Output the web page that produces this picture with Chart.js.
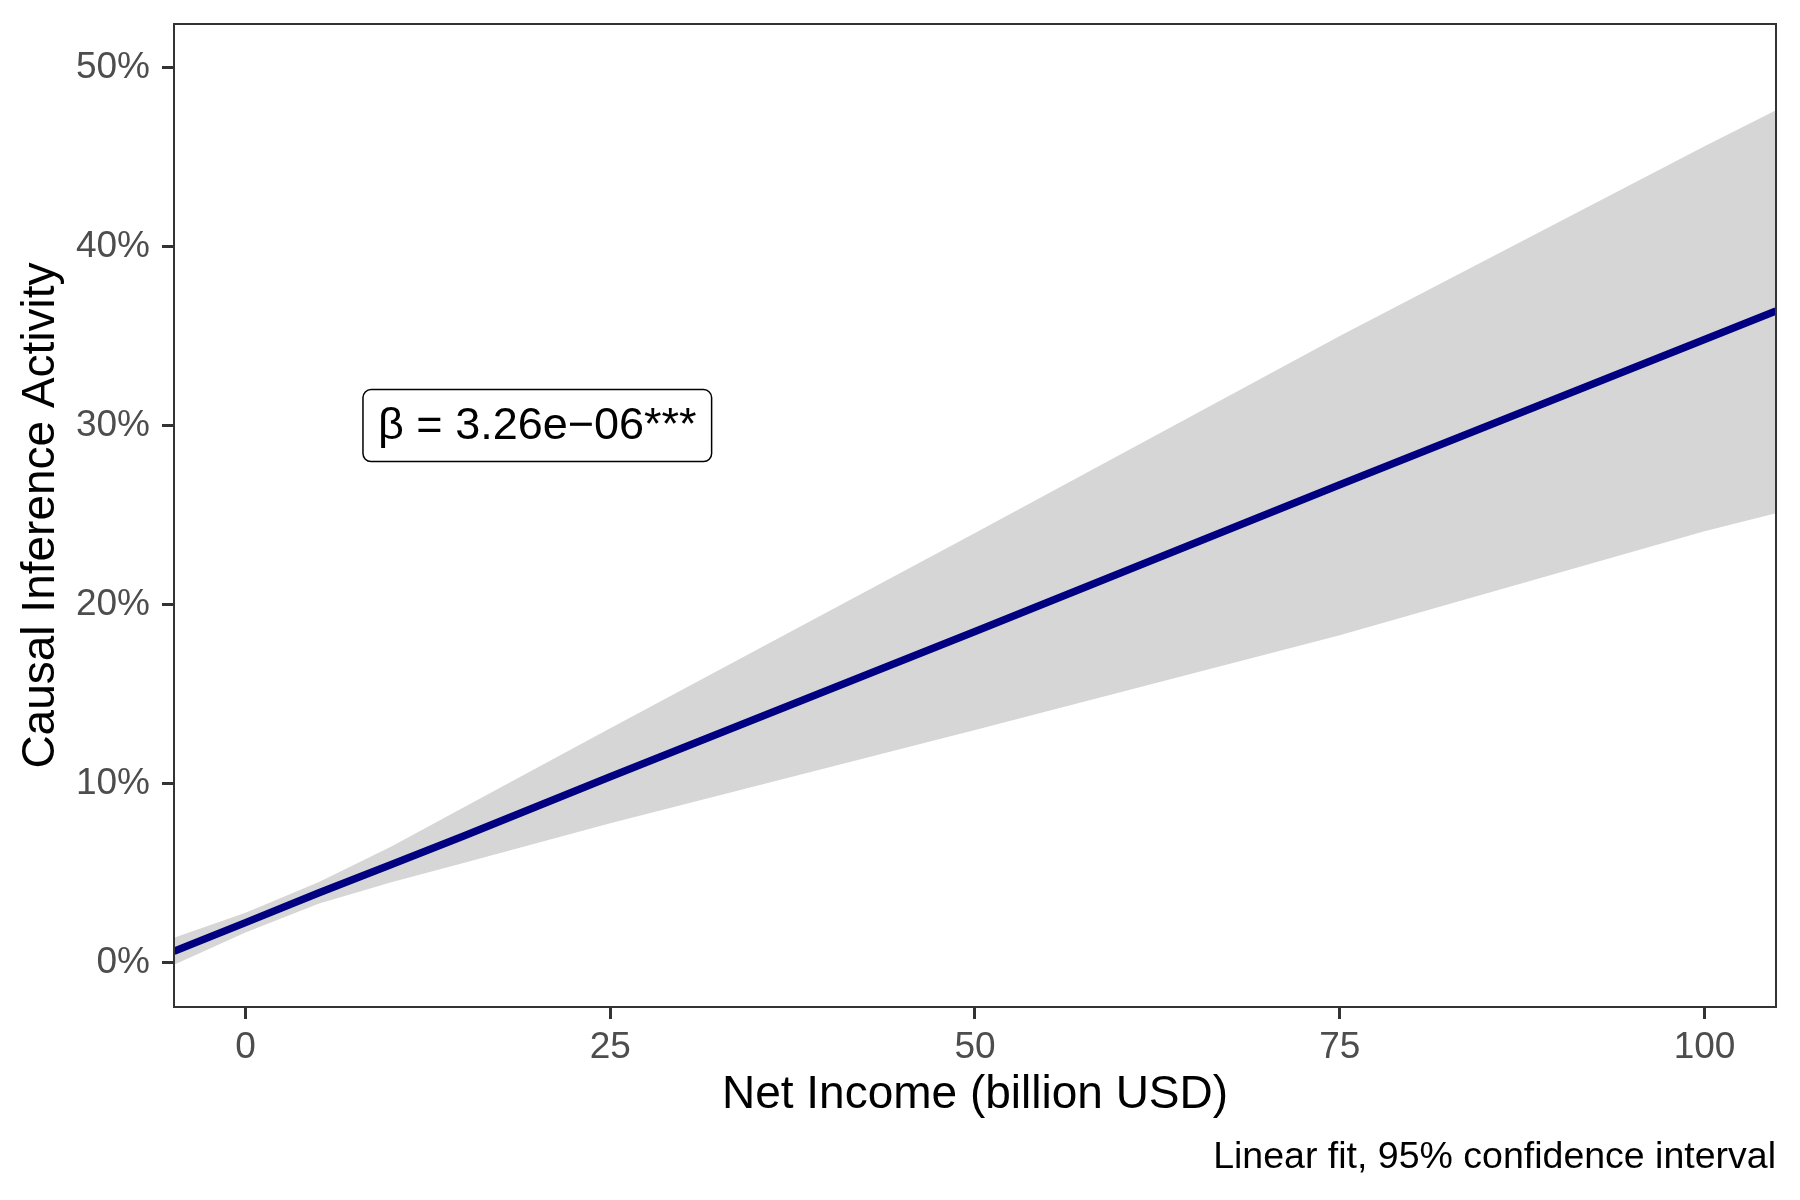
<!DOCTYPE html>
<html>
<head>
<meta charset="utf-8">
<script src="https://cdn.jsdelivr.net/npm/chart.js@4/dist/chart.umd.min.js"></script>
<style>
  html, body { margin: 0; padding: 0; background: #fff; }
  canvas { display: block; }
</style>
</head>
<body>
<canvas id="fit" width="1800" height="1200"></canvas>
<script>
  // values (x in billion USD, y in percent)
  const netIncome = [-4.9, 0, 5, 10, 15, 25, 50, 75, 100, 104.9];
  const fitLine   = [0.65, 2.25, 3.9, 5.5, 7.1, 10.4, 18.5, 26.7, 34.8, 36.4];
  const ciUpper   = [1.4, 2.8, 4.5, 6.5, 8.7, 13.1, 24.0, 35.0, 45.6, 47.6];
  const ciLower   = [-0.1, 1.7, 3.3, 4.5, 5.6, 7.8, 13.0, 18.3, 24.1, 25.1];

  const xRange = [-4.9, 104.9];
  const yRange = [-2.46, 52.42];
  const xStep = 25;
  const yStep = 10;

  const label = { x: 20, y: 30, text: 'β = 3.26e−06***' };
  const caption = 'Linear fit, 95% confidence interval';

  const FONT = '"Liberation Sans", Arial, Helvetica, sans-serif';
  const COLORS = {
    line: '#000080',
    band: 'rgb(214,214,214)',
    frame: '#333333',
    tick: '#4d4d4d',
    text: '#000000',
  };

  const pts = ys => netIncome.map((x, i) => ({ x: x, y: ys[i] }));

  // panel border, annotation box and caption
  const extras = {
    id: 'extras',
    afterDatasetsDraw(chart) {
      const { ctx, chartArea: a, scales } = chart;
      ctx.save();
      ctx.strokeStyle = COLORS.frame;
      ctx.lineWidth = 2;
      ctx.strokeRect(a.left, a.top, a.right - a.left, a.bottom - a.top);

      // label box
      ctx.font = '45px ' + FONT;
      const w = ctx.measureText(label.text).width;
      const cx = scales.x.getPixelForValue(label.x);
      const cy = scales.y.getPixelForValue(label.y);
      const bw = w + 30, bh = 72;
      ctx.beginPath();
      ctx.roundRect(cx - bw / 2, cy - bh / 2, bw, bh, 8);
      ctx.fillStyle = '#fff';
      ctx.fill();
      ctx.lineWidth = 1.5;
      ctx.strokeStyle = '#000';
      ctx.stroke();
      ctx.fillStyle = COLORS.text;
      ctx.textAlign = 'center';
      ctx.textBaseline = 'middle';
      ctx.fillText(label.text, cx, cy + 1);

      // caption
      ctx.font = '37.5px ' + FONT;
      ctx.textAlign = 'right';
      ctx.textBaseline = 'middle';
      ctx.fillText(caption, a.right, 1158);
      ctx.restore();
    },
  };

  function _axis(step, fmt, pad) {
    return {
      type: 'linear',
      grid: { drawOnChartArea: false, color: COLORS.frame, tickLength: 12, tickWidth: 3, lineWidth: 3 },
      border: { display: false },
      ticks: {
        stepSize: step,
        includeBounds: false,
        padding: pad,
        color: COLORS.tick,
        font: { family: FONT, size: 37, lineHeight: 1.2 },
        callback: fmt,
      },
    };
  }

  new Chart(document.getElementById('fit'), {
    type: 'line',
    data: {
      datasets: [
        { label: 'fit', data: pts(fitLine), borderColor: COLORS.line, borderWidth: 7.5,
          pointRadius: 0, fill: false, tension: 0, borderCapStyle: 'butt' },
        { label: 'upper', data: pts(ciUpper), borderWidth: 0, borderColor: 'transparent',
          backgroundColor: COLORS.band, pointRadius: 0, fill: '+1', tension: 0 },
        { label: 'lower', data: pts(ciLower), borderWidth: 0, borderColor: 'transparent',
          backgroundColor: COLORS.band, pointRadius: 0, fill: false, tension: 0 },
      ],
    },
    options: {
      responsive: false,
      animation: false,
      devicePixelRatio: 1,
      layout: { padding: { top: 24, right: 24, left: 0, bottom: 0 } },
      plugins: { legend: { display: false }, tooltip: { enabled: false } },
      scales: {
        x: {
          ..._axis(xStep, v => String(v), 7),
          min: xRange[0], max: xRange[1],
          afterFit: s => { s.height = 193; s.paddingLeft = 0; s.paddingRight = 0; },
          title: { display: true, text: 'Net Income (billion USD)', color: COLORS.text,
                   font: { family: FONT, size: 46, lineHeight: 1.2 }, padding: { bottom: 77 } },
        },
        y: {
          ..._axis(yStep, v => v + '%', 12),
          min: yRange[0], max: yRange[1],
          afterFit: s => { s.width = 174; s.paddingTop = 0; s.paddingBottom = 0; },
          title: { display: true, text: 'Causal Inference Activity', color: COLORS.text,
                   font: { family: FONT, size: 46, lineHeight: 1.2 }, padding: { top: 14 } },
        },
      },
    },
    plugins: [extras],
  });
</script>
</body>
</html>
